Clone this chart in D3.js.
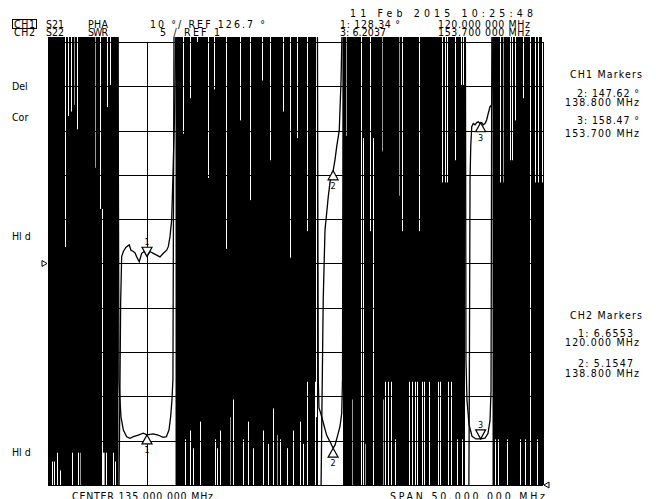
<!DOCTYPE html>
<html>
<head>
<meta charset="utf-8">
<script src="https://cdn.jsdelivr.net/npm/d3@7"></script>
<style>
  body { margin: 0; background: #fff; }
  text { font-family: "Liberation Sans Narrow", "DejaVu Sans Condensed", sans-serif; font-size: 10.5px; fill: #000; }
</style>
</head>
<body>
<svg width="656" height="499"></svg>
<script>
// sweep + scale settings (from the screen annotations)
var startF = 110, stopF = 160;          // CENTER 135 MHz, SPAN 50 MHz
var phaRef = 126.7, phaDiv = 10;        // CH1 PHA 10 deg/div, ref at centre line
var swrRef = 1, swrDiv = 5;             // CH2 SWR 5/div, ref at bottom line

// CH1 phase trace in the three pass bands [MHz, deg]
var pha1 = [[117.15, 70], [117.25, 95], [117.34, 118], [117.44, 128.2], [117.61, 129.4], [117.88, 130.4],
  [118.21, 130.9], [118.38, 129.7], [118.62, 129.4], [118.79, 129.1], [118.96, 128.2], [119.22, 127.1],
  [119.46, 129.0], [119.73, 129.4], [120.0, 128.34], [120.30, 129.4], [120.64, 129.0], [120.98, 128.6],
  [121.31, 128.2], [121.65, 129.0], [121.99, 129.7], [122.15, 130.5], [122.32, 132.7], [122.49, 136.5],
  [122.63, 147], [122.78, 160], [122.95, 185]];
var pha2 = [[137.55, 70], [137.68, 95.9], [137.8, 118.5], [137.98, 134.3], [138.15, 138.1], [138.31, 141.8],
  [138.48, 144.9], [138.66, 147.0], [138.8, 147.62], [138.99, 150.1], [139.16, 153.1], [139.32, 155.3],
  [139.42, 156.8], [139.60, 168], [139.75, 185]];
var pha3 = [[152.5, 70], [152.56, 100], [152.63, 145.5], [152.70, 153.1], [152.80, 157.6], [152.96, 158.3],
  [153.13, 158.0], [153.30, 158.5], [153.46, 158.7], [153.64, 158.3], [153.7, 158.47], [153.81, 158.5],
  [153.97, 158.0], [154.14, 158.3], [154.31, 159.1], [154.47, 160.6], [154.65, 162.1], [154.82, 162.5],
  [154.9, 170], [155.0, 185]];

// CH2 SWR trace in the pass bands [MHz, SWR]
var swr1 = [[117.05, 60], [117.17, 12.9], [117.27, 10.6], [117.37, 8.7], [117.61, 7.2], [117.95, 6.45],
  [118.28, 6.27], [118.62, 6.45], [119.12, 6.64], [119.62, 6.84], [120.0, 6.6553], [120.62, 6.76],
  [121.12, 6.64], [121.62, 6.38], [121.96, 6.45], [122.22, 7.21], [122.39, 8.71], [122.52, 10.6],
  [122.62, 12.9], [122.75, 60]];
var swr2 = [[137.2, 60], [137.3, 13], [137.37, 9.7], [137.55, 9.1], [137.81, 8.0], [138.15, 6.6],
  [138.48, 5.9], [138.8, 5.1547], [138.99, 5.5], [139.26, 6.6], [139.49, 7.6], [139.67, 9.1],
  [139.75, 13], [139.82, 60]];
var swr3 = [[152.15, 60], [152.22, 15.1], [152.32, 10.6], [152.53, 7.8], [152.83, 6.5], [153.23, 6.2],
  [153.7, 6.2037], [154.14, 6.3], [154.44, 6.8], [154.65, 8.3], [154.75, 11.7], [154.85, 60]];

// stop bands, where the wrapped phase fills the screen [MHz from, MHz to]
var stopBands = [[110, 117.12], [122.88, 137.27], [139.8, 152.12], [154.9, 160]];

// columns the wrapping trace missed [MHz, deg top, deg bottom]
var whiteGaps = [
  // 110-117 MHz
  [110.43, 82, 70], [110.64, 82, 70], [110.88, 84, 70], [111.17, 80, 70], [111.72, 185, 130.4],
  [112.02, 185, 160], [112.32, 185, 161], [112.93, 185, 157], [112.39, 84, 70], [113.0, 84, 70],
  [115.25, 185, 139], [115.45, 139, 70], [115.96, 185, 162], [116.26, 185, 167], [115.53, 84, 70],
  [115.86, 84, 70], [116.57, 84, 70], [116.77, 82, 70],
  // 123-137 MHz
  [123.64, 185, 156], [124.34, 185, 164], [125.05, 185, 118], [126.16, 185, 146], [126.77, 185, 166],
  [127.98, 185, 130], [129.39, 185, 159], [130.40, 185, 141], [131.62, 185, 168], [132.42, 185, 150],
  [133.74, 185, 161], [134.44, 185, 128], [135.15, 185, 155], [136.16, 185, 134], [137.07, 185, 92],
  [123.84, 87, 70], [124.34, 89, 70], [124.65, 85, 70], [125.35, 91, 70], [126.87, 87, 70],
  [127.07, 85, 70], [127.37, 89, 70], [128.69, 96, 70], [129.70, 87, 70], [130.20, 91, 70],
  [130.71, 85, 70], [131.72, 89, 70], [132.22, 86, 70], [132.73, 94, 70], [133.43, 87, 70],
  [134.14, 85, 70], [134.75, 89, 70], [135.45, 91, 70], [135.76, 86, 70], [136.16, 100, 70], [136.97, 100, 70],
  // 140-152 MHz
  [141.62, 185, 70], [141.82, 155, 70], [142.53, 185, 134], [142.83, 155, 70], [144.04, 100, 70],
  [144.34, 100, 70], [144.65, 100, 70], [145.05, 87, 70], [145.76, 185, 134], [146.46, 100, 70],
  [146.77, 100, 70], [147.07, 100, 70], [147.27, 100, 70], [147.47, 185, 134], [147.78, 100, 70],
  [147.98, 100, 70], [148.48, 100, 70], [149.39, 100, 70], [149.60, 100, 70], [149.80, 185, 145],
  [150.10, 185, 145], [150.30, 185, 145], [150.40, 100, 70], [150.71, 100, 70], [151.11, 185, 150],
  [151.31, 87, 70], [151.82, 87, 70], [151.72, 185, 167], [151.92, 185, 167],
  // 155-160 MHz
  [155.15, 87, 70], [155.45, 87, 70], [155.66, 185, 145], [156.36, 87, 70], [156.67, 185, 150],
  [156.87, 185, 150], [157.17, 185, 159], [157.68, 87, 70], [157.98, 185, 164], [158.18, 87, 70],
  [158.69, 185, 70], [159.19, 185, 145], [159.39, 87, 70], [159.49, 185, 145], [159.90, 185, 145]];
var grayGaps = [[112.63, 185, 162.5], [114.75, 185, 148.3], [113.23, 84, 70], [115.66, 84, 70],
  [140.07, 185, 155.5], [140.71, 96, 70], [142.02, 86, 70], [143.71, 185, 152], [143.84, 96, 70],
  [145.45, 185, 142], [155.96, 185, 145], [128.4, 92, 70], [133.1, 88, 70]];

// markers: [MHz, value, label, active]
var ch1Markers = [[120.0, 128.34, "1", true], [138.8, 147.62, "2", false], [153.7, 158.47, "3", false]];
var ch2Markers = [[120.0, 6.6553, "1", false], [138.8, 5.1547, "2", false], [153.7, 6.2037, "3", true]];

var svg = d3.select("svg");
var gL = 48, gR = 543, gT = 42, gB = 485;

var x = d3.scaleLinear().domain([startF, stopF]).range([gL, gR]);
var yPha = d3.scaleLinear().domain([phaRef - 5 * phaDiv, phaRef + 5 * phaDiv]).range([gB, gT]);
var ySwr = d3.scaleLinear().domain([swrRef, swrRef + 10 * swrDiv]).range([gB, gT]);

svg.append("defs").append("clipPath").attr("id", "scr")
  .append("rect").attr("x", gL).attr("y", gT - 5).attr("width", gR - gL).attr("height", gB - gT + 5);

var plot = svg.append("g").attr("clip-path", "url(#scr)");

plot.selectAll(".stop").data(stopBands).enter().append("rect")
  .attr("x", d => x(d[0])).attr("width", d => x(d[1]) - x(d[0]))
  .attr("y", gT - 5).attr("height", gB - gT + 5).attr("fill", "#000");

plot.selectAll(".wg").data(whiteGaps).enter().append("line")
  .attr("x1", d => Math.round(x(d[0])) + 0.5).attr("x2", d => Math.round(x(d[0])) + 0.5)
  .attr("y1", d => yPha(d[1])).attr("y2", d => yPha(d[2]))
  .attr("stroke", "#fff").attr("stroke-width", 1);
plot.selectAll(".gg").data(grayGaps).enter().append("line")
  .attr("x1", d => Math.round(x(d[0])) + 0.5).attr("x2", d => Math.round(x(d[0])) + 0.5)
  .attr("y1", d => yPha(d[1])).attr("y2", d => yPha(d[2]))
  .attr("stroke", "#999").attr("stroke-width", 1);

// graticule
var gx = d3.range(0, 11).map(i => startF + i * (stopF - startF) / 10);
var gy = d3.range(0, 11).map(i => phaRef - 5 * phaDiv + i * phaDiv);
svg.append("g").selectAll("line").data(gx).enter().append("line")
  .attr("x1", d => Math.round(x(d)) + 0.5).attr("x2", d => Math.round(x(d)) + 0.5)
  .attr("y1", gT).attr("y2", gB).attr("stroke", "#000");
svg.append("g").selectAll("line").data(gy).enter().append("line")
  .attr("x1", gL).attr("x2", gR)
  .attr("y1", d => Math.round(yPha(d)) + 0.5).attr("y2", d => Math.round(yPha(d)) + 0.5).attr("stroke", "#000");

var linePha = d3.line().x(d => x(d[0])).y(d => yPha(d[1]));
var lineSwr = d3.line().x(d => x(d[0])).y(d => ySwr(d[1]));
[pha1, pha2, pha3].forEach(function(s) {
  plot.append("path").attr("d", linePha(s)).attr("fill", "none").attr("stroke", "#000").attr("stroke-width", 1.3);
});
[swr1, swr2, swr3].forEach(function(s) {
  plot.append("path").attr("d", lineSwr(s)).attr("fill", "none").attr("stroke", "#000").attr("stroke-width", 1.3);
});

// markers
function marker(px, py, label, active) {
  var g = svg.append("g").attr("transform", "translate(" + px + "," + py + ")");
  if (active) {
    g.append("path").attr("d", "M0,0 L-5,-9 L5,-9 Z").attr("fill", "#fff").attr("stroke", "#000").attr("stroke-width", 1.2);
    g.append("text").attr("x", 0).attr("y", -11).attr("text-anchor", "middle").style("font-size", "9px").text(label);
  } else {
    g.append("path").attr("d", "M0,0 L-5,9 L5,9 Z").attr("fill", "#fff").attr("stroke", "#000").attr("stroke-width", 1.2);
    g.append("text").attr("x", 0).attr("y", 18).attr("text-anchor", "middle").style("font-size", "9px").text(label);
  }
}
ch1Markers.forEach(d => marker(x(d[0]), yPha(d[1]), d[2], d[3]));
ch2Markers.forEach(d => marker(x(d[0]), ySwr(d[1]), d[2], d[3]));

// reference position arrows
svg.append("path").attr("d", "M" + (gL - 6) + "," + (yPha(phaRef) - 3) + " l5,3 l-5,3 Z")
  .attr("fill", "#fff").attr("stroke", "#000");
svg.append("path").attr("d", "M" + (gR + 6) + "," + (ySwr(swrRef) - 3) + " l-5,3 l5,3 Z")
  .attr("fill", "#fff").attr("stroke", "#000");

// annotations
function txt(s, tx, ty, w) {
  var t = svg.append("text").attr("x", tx).attr("y", ty).text(s);
  if (w) t.attr("textLength", w).attr("lengthAdjust", "spacing");
  return t;
}
svg.append("rect").attr("x", 12.5).attr("y", 19.5).attr("width", 24).attr("height", 9).attr("fill", "none").attr("stroke", "#000");
txt("CH1", 14, 28, 21);
txt("CH2", 14, 36, 21);
txt("S21", 46, 28, 18);
txt("S22", 46, 36, 18);
txt("PHA", 88, 28, 20);
txt("SWR", 88, 36, 20);
txt("10 °/ REF 126.7 °", 150, 28, 115);
txt("5  /  REF 1", 160, 36, 60);
txt("11  Feb  2015   10:25:48", 350, 17, 183);
txt("1: 128.34 °", 340, 28, 60);
txt("120.000 000 MHz", 438, 28, 92);
txt("3: 6.2037", 340, 36, 46);
txt("153.700 000 MHz", 438, 36, 92);

txt("Del", 12, 90);
txt("Cor", 12, 121);
txt("Hl d", 12, 240);
txt("Hl d", 12, 456);

txt("CH1 Markers", 570, 78, 72);
txt("2: 147.62 °", 577, 97, 62);
txt("138.800 MHz", 565, 106, 74);
txt("3: 158.47 °", 577, 124, 62);
txt("153.700 MHz", 565, 137, 74);
txt("CH2 Markers", 570, 319, 72);
txt("1: 6.6553", 578, 337, 55);
txt("120.000 MHz", 565, 346, 74);
txt("2: 5.1547", 578, 367, 55);
txt("138.800 MHz", 565, 377, 74);

txt("CENTER  135.000 000 MHz", 72, 500, 141);
txt("SPAN  50.000 000 MHz", 390, 500, 155);
</script>
</body>
</html>
